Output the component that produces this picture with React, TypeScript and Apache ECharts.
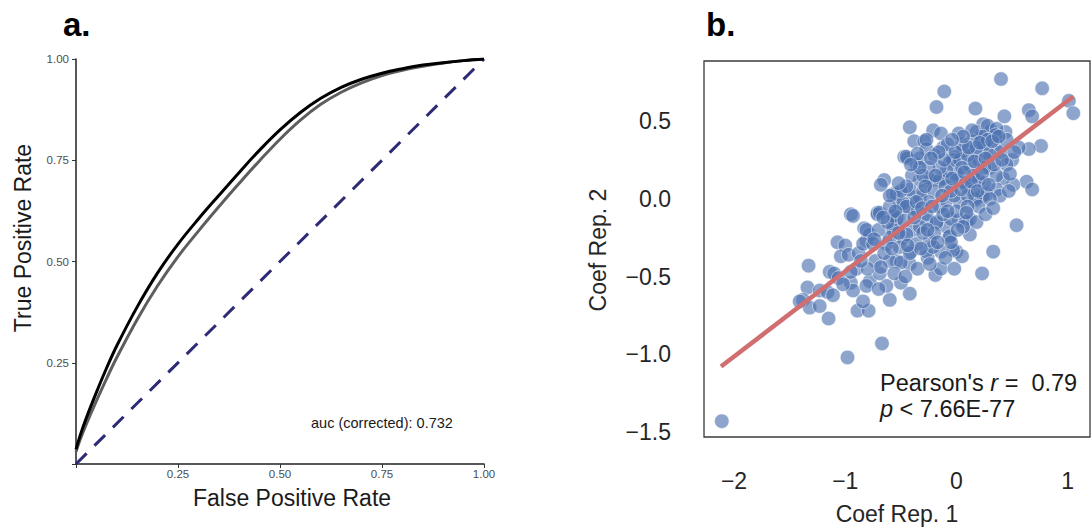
import React, { useEffect, useRef } from "react";
import * as echarts from "echarts";

// ---------- Panel a: ROC curves ----------
const fprBlack = [0, 0.01, 0.025, 0.05, 0.075, 0.1, 0.15, 0.2, 0.25, 0.3, 0.35, 0.4, 0.45, 0.5, 0.55, 0.6, 0.65, 0.7, 0.75, 0.8, 0.85, 0.9, 0.95, 1];
const tprBlack = [0.036, 0.07, 0.113, 0.177, 0.237, 0.292, 0.388, 0.472, 0.543, 0.605, 0.663, 0.72, 0.775, 0.825, 0.868, 0.903, 0.93, 0.95, 0.965, 0.976, 0.985, 0.991, 0.996, 1];
const fprGray = [0, 0.01, 0.025, 0.05, 0.075, 0.1, 0.15, 0.2, 0.25, 0.3, 0.35, 0.4, 0.45, 0.5, 0.55, 0.6, 0.65, 0.7, 0.75, 0.8, 0.85, 0.9, 0.95, 1];
const tprGray = [0.03, 0.06, 0.098, 0.156, 0.211, 0.263, 0.357, 0.44, 0.512, 0.575, 0.635, 0.693, 0.749, 0.802, 0.849, 0.888, 0.918, 0.941, 0.959, 0.972, 0.982, 0.99, 0.996, 1];
const chanceX = [0, 1];
const chanceY = [0, 1];
const aucLabel = "auc (corrected): 0.732";

// ---------- Panel b: coefficient replicates ----------
const rep1Ticks = [-2, -1, 0, 1];
const rep2Ticks = [-1.5, -1.0, -0.5, 0.0, 0.5];
const regLineX = [-2.117, 1.05];
const regLineY = [-1.079, 0.658];
const pearsonR = "0.79";
const pearsonP = "7.66E-77";

const coefPoints: [number, number][] = [
  [-2.11, -1.43],
  [0.40, 0.77], [0.77, 0.71], [-0.11, 0.69], [-0.18, 0.59], [0.17, 0.58], [1.01, 0.63], [1.05, 0.55], [0.65, 0.57], [0.68, 0.53], [0.43, 0.53],
  [-0.42, 0.46], [-0.21, 0.44], [-0.14, 0.42], [0.24, 0.48], [0.31, 0.44], [0.44, 0.43], [0.18, 0.43], [0.22, 0.41], [0.28, 0.47], [0.36, 0.45],
  [0.76, 0.34], [0.65, 0.32], [0.56, 0.33], [0.50, 0.25], [0.27, 0.30], [0.06, 0.31], [-0.02, 0.27],
  [-0.38, 0.37], [-0.29, 0.37], [-0.27, 0.32], [-0.12, 0.33], [-0.47, 0.27], [-0.44, 0.26], [-0.36, 0.22], [-0.20, 0.28], [-0.03, 0.25], [-0.33, 0.26],
  [-0.65, 0.12], [-0.68, 0.09], [-0.57, 0.03], [-0.95, -0.10], [-0.71, -0.09],
  [0.63, 0.11], [0.68, 0.06], [0.51, 0.09], [0.42, 0.13], [0.36, 0.06], [0.27, 0.03], [0.39, 0.02], [0.17, -0.01], [0.24, 0.02], [0.54, -0.17], [0.33, -0.34], [0.23, -0.48], [0.12, -0.23], [0.09, -0.15], [0.00, -0.34], [0.05, -0.37], [0.12, -0.13],
  [-0.83, -0.19], [-1.07, -0.28], [-1.00, -0.30], [-1.04, -0.37], [-0.97, -0.36],
  [-1.33, -0.43], [-1.34, -0.57], [-1.14, -0.47], [-1.10, -0.48], [-1.06, -0.51], [-0.95, -0.54], [-1.23, -0.59], [-1.16, -0.60], [-1.11, -0.62], [-1.38, -0.65], [-1.32, -0.70], [-1.23, -0.69], [-1.15, -0.77], [-1.41, -0.66],
  [-0.89, -0.72], [-0.79, -0.72], [-0.84, -0.66], [-0.93, -0.59], [-1.02, -0.55], [-0.67, -0.93], [-0.98, -1.02], [-0.60, -0.65], [-0.42, -0.61], [-0.50, -0.54], [-0.63, -0.56], [-0.78, -0.53], [-0.81, -0.56],
  [-0.19, -0.49], [-0.14, -0.45], [-0.26, -0.38], [-0.14, -0.34], [-0.42, -0.42], [-0.41, -0.34], [-0.27, -0.34], [-0.21, -0.31], [-0.54, -0.40], [-0.60, -0.40], [-0.50, -0.41], [-0.69, -0.48], [-0.73, -0.40], [-0.88, -0.35], [-0.81, -0.27],
  [-0.07, -0.25], [-0.09, -0.18], [0.02, -0.14], [-0.05, -0.13], [-0.18, -0.16], [-0.27, -0.14], [-0.39, -0.20], [-0.48, -0.25], [-0.57, -0.18], [-0.78, -0.23], [-0.84, -0.29], [-0.53, -0.12], [-0.42, -0.06], [-0.51, -0.03], [-0.93, -0.11], [-0.71, -0.10],
  [-0.27, 0.38], [-0.45, 0.27], [-0.35, 0.29], [-0.06, 0.23], [0.03, 0.25], [0.17, 0.31], [0.23, 0.40], [0.12, 0.22],
  [-0.54, 0.03], [-0.33, 0.12], [-0.22, 0.12], [-0.12, 0.13], [0.00, 0.16], [0.09, 0.08], [-0.39, 0.01], [-0.48, -0.03], [-0.69, -0.09], [-0.54, -0.13], [-0.27, -0.10], [-0.15, -0.05], [-0.09, -0.01], [0.03, -0.02], [0.17, 0.00],
  [-0.18, -0.15], [-0.33, -0.18], [-0.45, -0.23], [-0.57, -0.20], [-0.81, -0.20], [-0.75, -0.29], [-0.63, -0.29], [-0.51, -0.31], [-0.36, -0.29], [-0.24, -0.27], [-0.06, -0.24], [0.06, -0.18], [-0.03, -0.33], [-0.42, -0.35],
  [-0.45, -0.05], [-0.56, -0.11], [-0.33, 0.01], [-0.24, 0.12], [-0.15, 0.12], [-0.09, 0.18], [-0.42, 0.06], [-0.30, 0.05],
  [0.00, 0.12], [0.08, 0.10], [-0.02, 0.02], [0.15, 0.05], [0.25, 0.10], [0.30, 0.20], [0.20, 0.25], [0.10, 0.28], [0.35, 0.35], [0.14, 0.37], [0.40, 0.30], [0.45, 0.22], [0.36, 0.15],
  [-0.20, 0.05], [-0.10, 0.08], [0.05, 0.20], [0.15, 0.15], [-0.25, -0.02], [-0.35, -0.08], [-0.60, -0.25], [-0.65, -0.35], [-0.30, -0.22], [-0.20, -0.22], [0.10, 0.02], [0.20, 0.12], [0.25, 0.20], [0.30, 0.28], [-0.05, 0.05], [-0.15, 0.20], [-0.25, 0.20], [0.05, 0.35], [-0.40, 0.15], [-0.50, 0.05], [-0.60, -0.05], [-0.70, -0.20], [-0.90, -0.45], [-0.80, -0.45], [-0.70, -0.58], [0.20, -0.05], [0.30, 0.00], [0.00, -0.08], [-0.12, -0.10], [-0.32, -0.32], [0.45, 0.38], [0.35, 0.41], [0.25, 0.35], [0.18, 0.33], [0.28, 0.38], [-0.08, 0.35], [0.02, 0.42], [-0.30, 0.15], [-0.55, -0.08], [-0.45, 0.08], [-0.05, -0.28], [0.10, -0.05],
  [-0.62, -0.15], [-0.58, -0.32], [-0.52, -0.22], [-0.47, -0.14], [-0.44, -0.30], [-0.38, -0.12], [-0.36, -0.02], [-0.31, -0.06], [-0.28, 0.08], [-0.26, -0.20], [-0.22, -0.05], [-0.19, 0.15], [-0.17, -0.28], [-0.13, 0.02], [-0.11, 0.25], [-0.08, -0.08], [-0.04, 0.13], [-0.01, 0.30], [0.01, -0.20], [0.04, 0.06], [0.07, 0.17], [0.09, -0.09], [0.11, 0.33], [0.13, 0.11], [0.16, 0.24], [0.19, 0.05], [0.21, 0.36], [0.23, 0.16], [0.26, 0.26], [0.29, 0.09], [0.32, 0.37], [0.34, 0.22], [0.38, 0.40], [0.41, 0.25], [0.14, 0.44], [0.06, 0.40], [-0.04, 0.38], [-0.16, 0.30], [-0.23, 0.26], [-0.33, 0.20], [-0.41, 0.22], [-0.52, 0.10], [-0.60, 0.02], [-0.66, -0.12], [-0.74, -0.26], [-0.86, -0.40], [-0.95, -0.47], [-0.68, -0.44], [-0.56, -0.48], [-0.46, -0.50], [-0.35, -0.45], [-0.24, -0.42], [-0.10, -0.38], [-0.02, -0.45], [0.18, -0.15], [0.26, -0.10], [0.33, -0.06], [0.48, 0.16], [0.52, 0.30], [0.47, 0.05],
];

const FONT = "'Liberation Sans', Arial, Helvetica, sans-serif";

const zip = (a: number[], b: number[]) => a.map((v, i) => [v, b[i]]);
const minusFmt = (s: string) => s.replace("-", "\u2212");

export default function App() {
  const ref = useRef<HTMLDivElement>(null);

  useEffect(() => {
    if (!ref.current) return;
    const chart = echarts.init(ref.current, null, { renderer: "svg" });

    const option: any = {
      animation: false,
      backgroundColor: "#ffffff",
      textStyle: { fontFamily: FONT },
      grid: [
        { left: 76, top: 59, width: 408, height: 405, containLabel: false },
        {
          left: 704, top: 61, width: 386, height: 376, containLabel: false,
          show: true, borderColor: "#3a3a3a", borderWidth: 1.3, backgroundColor: "transparent",
        },
      ],
      xAxis: [
        {
          type: "value", gridIndex: 0, min: 0, max: 1, interval: 0.25,
          axisLine: { show: true, lineStyle: { color: "#222", width: 1.5 } },
          axisTick: { show: true, length: 4, lineStyle: { color: "#333", width: 1 } },
          axisLabel: {
            margin: 4, fontSize: 11.5, color: "#4d4d4d", fontFamily: FONT,
            formatter: (v: number) => (v === 0 ? "" : v.toFixed(2)),
          },
          splitLine: { show: false },
        },
        {
          type: "value", gridIndex: 1, min: -2.27, max: 1.2,
          axisLine: { show: false }, axisTick: { show: false }, splitLine: { show: false },
          axisLabel: {
            customValues: rep1Ticks, margin: 32, fontSize: 23, color: "#262626", fontFamily: FONT,
            formatter: (v: number) => minusFmt(String(Math.round(v))),
          },
        },
      ],
      yAxis: [
        {
          type: "value", gridIndex: 0, min: 0, max: 1, interval: 0.25,
          axisLine: { show: true, lineStyle: { color: "#222", width: 1.5 } },
          axisTick: { show: true, length: 4, lineStyle: { color: "#333", width: 1 } },
          axisLabel: {
            margin: 7, fontSize: 11.5, color: "#4d4d4d", fontFamily: FONT,
            formatter: (v: number) => (v === 0 ? "" : v.toFixed(2)),
          },
          splitLine: { show: false },
        },
        {
          type: "value", gridIndex: 1, min: -1.532, max: 0.886,
          axisLine: { show: false }, axisTick: { show: false }, splitLine: { show: false },
          axisLabel: {
            customValues: rep2Ticks, margin: 33, fontSize: 23, color: "#262626", fontFamily: FONT,
            formatter: (v: number) => minusFmt(v.toFixed(1)),
          },
        },
      ],
      series: [
        {
          type: "line", xAxisIndex: 0, yAxisIndex: 0, data: zip(chanceX, chanceY),
          showSymbol: false, symbol: "none",
          lineStyle: { color: "#2d2b76", width: 3, type: [15, 11] }, z: 2,
        },
        {
          type: "line", xAxisIndex: 0, yAxisIndex: 0, data: zip(fprGray, tprGray),
          showSymbol: false, symbol: "none", smooth: 0.4,
          lineStyle: { color: "#5e5e5e", width: 3 }, z: 3,
        },
        {
          type: "line", xAxisIndex: 0, yAxisIndex: 0, data: zip(fprBlack, tprBlack),
          showSymbol: false, symbol: "none", smooth: 0.4,
          lineStyle: { color: "#000000", width: 3 }, z: 4,
        },
        {
          type: "scatter", xAxisIndex: 1, yAxisIndex: 1, data: coefPoints,
          symbolSize: 14.5,
          itemStyle: { color: "rgba(76,114,176,0.8)", borderColor: "rgba(255,255,255,0.8)", borderWidth: 0.8 },
          z: 2,
        },
        {
          type: "line", xAxisIndex: 1, yAxisIndex: 1, data: zip(regLineX, regLineY),
          showSymbol: false, symbol: "none",
          lineStyle: { color: "#d16e70", width: 4.5 }, z: 5,
        },
      ],
      graphic: [
        { type: "text", left: 63, top: 8, style: { text: "a.", font: `bold 33px ${FONT}`, fill: "#000" } },
        { type: "text", left: 706, top: 8, style: { text: "b.", font: `bold 33px ${FONT}`, fill: "#000" } },
        {
          type: "text", x: 292, y: 498,
          style: { text: "False Positive Rate", font: `23px ${FONT}`, fill: "#1a1a1a", align: "center", verticalAlign: "middle" },
        },
        {
          type: "text", x: 23, y: 238, rotation: Math.PI / 2,
          style: { text: "True Positive Rate", font: `23px ${FONT}`, fill: "#1a1a1a", align: "center", verticalAlign: "middle" },
        },
        {
          type: "text", x: 311, y: 423,
          style: { text: aucLabel, font: `14.5px ${FONT}`, fill: "#1a1a1a", align: "left", verticalAlign: "middle" },
        },
        {
          type: "text", x: 897, y: 514,
          style: { text: "Coef Rep. 1", font: `23px ${FONT}`, fill: "#262626", align: "center", verticalAlign: "middle" },
        },
        {
          type: "text", x: 598, y: 250, rotation: Math.PI / 2,
          style: { text: "Coef Rep. 2", font: `23px ${FONT}`, fill: "#262626", align: "center", verticalAlign: "middle" },
        },
        {
          type: "text", x: 880, y: 370,
          style: {
            text: `{n|Pearson's }{i|r}{n| =  ${pearsonR}}\n{i|p}{n| < ${pearsonP}}`,
            verticalAlign: "top", align: "left",
            rich: {
              n: { fontSize: 23.5, fontFamily: FONT, fill: "#1a1a1a", lineHeight: 26 },
              i: { fontSize: 23.5, fontFamily: FONT, fontStyle: "italic", fill: "#1a1a1a", lineHeight: 26 },
            },
          },
        },
      ],
    };

    chart.setOption(option);
    return () => chart.dispose();
  }, []);

  return (
    <div
      ref={ref}
      style={{ position: "fixed", left: 0, top: 0, width: 1091, height: 531, background: "#fff" }}
    />
  );
}
